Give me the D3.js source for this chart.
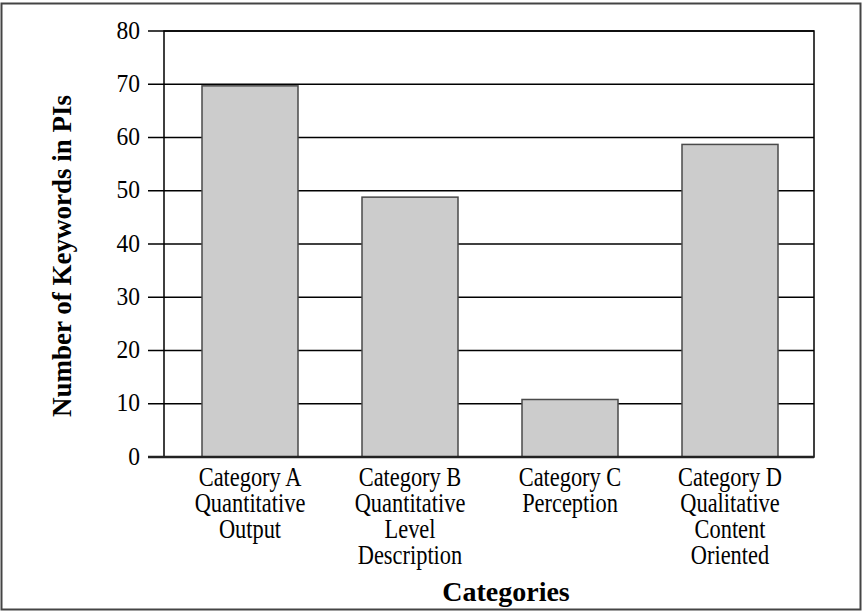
<!DOCTYPE html>
<html>
<head>
<meta charset="utf-8">
<script src="https://cdn.jsdelivr.net/npm/d3@7"></script>
<style>
  body { margin: 0; background: #fff; }
  text { font-family: "Liberation Serif", "Times New Roman", serif; fill: #000; }
</style>
</head>
<body>
<div id="chart"></div>
<script>
// data
var categories = ["Category A", "Category B", "Category C", "Category D"];
var categoryLabels = [
  ["Category A", "Quantitative", "Output"],
  ["Category B", "Quantitative", "Level", "Description"],
  ["Category C", "Perception"],
  ["Category D", "Qualitative", "Content", "Oriented"]
];
var keywordCounts = [69.7, 48.8, 10.8, 58.7];
var yTicks = [0, 10, 20, 30, 40, 50, 60, 70, 80];

var w = 862, h = 611;
var plot = {left: 164, right: 814, top: 31, bottom: 457};

var svg = d3.select("#chart").append("svg")
  .attr("width", w)
  .attr("height", h);

// outer frame
svg.append("rect")
  .attr("x", 1.5).attr("y", 3.5)
  .attr("width", w - 3).attr("height", h - 5)
  .attr("fill", "none")
  .attr("stroke", "#444")
  .attr("stroke-width", 2);

var x = d3.scaleBand()
  .domain(categories)
  .range([170, 810])
  .paddingInner(0.4)
  .paddingOuter(0.2);

var y = d3.scaleLinear()
  .domain([0, 80])
  .range([plot.bottom, plot.top]);

// gridlines
svg.append("g")
  .selectAll("line")
  .data(yTicks)
  .enter()
  .append("line")
  .attr("x1", plot.left - 16)
  .attr("x2", plot.right)
  .attr("y1", function(d) { return y(d); })
  .attr("y2", function(d) { return y(d); })
  .attr("stroke", "#000")
  .attr("stroke-width", 1.5);

// bars
svg.append("g")
  .selectAll("rect")
  .data(keywordCounts)
  .enter()
  .append("rect")
  .attr("x", function(d, i) { return x(categories[i]); })
  .attr("width", x.bandwidth())
  .attr("y", function(d) { return y(d); })
  .attr("height", function(d) { return y(0) - y(d); })
  .attr("fill", "#cccccc")
  .attr("stroke", "#4a4a4a")
  .attr("stroke-width", 1.5);

// plot frame
svg.append("rect")
  .attr("x", plot.left).attr("y", plot.top)
  .attr("width", plot.right - plot.left)
  .attr("height", plot.bottom - plot.top)
  .attr("fill", "none")
  .attr("stroke", "#000")
  .attr("stroke-width", 1.5);

svg.append("line")
  .attr("x1", plot.left - 16).attr("x2", plot.right)
  .attr("y1", plot.bottom).attr("y2", plot.bottom)
  .attr("stroke", "#222")
  .attr("stroke-width", 2.5);

// y tick labels
svg.append("g")
  .selectAll("text")
  .data(yTicks)
  .enter()
  .append("text")
  .attr("transform", function(d) { return "translate(140," + (y(d) + 7.5) + ") scale(0.94,1)"; })
  .attr("text-anchor", "end")
  .style("font-size", "25px")
  .text(function(d) { return d; });

// category labels, one text per category, lines as tspans
svg.append("g")
  .selectAll("text")
  .data(categoryLabels)
  .enter()
  .append("text")
  .attr("transform", function(d, i) {
    return "translate(" + (x(categories[i]) + x.bandwidth() / 2) + ",486) scale(0.8,1)";
  })
  .attr("text-anchor", "middle")
  .style("font-size", "28px")
  .selectAll("tspan")
  .data(function(d) { return d; })
  .enter()
  .append("tspan")
  .attr("x", 0)
  .attr("y", function(d, j) { return j * 26; })
  .text(function(d) { return d; });

// axis titles
svg.append("text")
  .attr("x", 506).attr("y", 601)
  .attr("text-anchor", "middle")
  .style("font-size", "28px")
  .style("font-weight", "bold")
  .text("Categories");

svg.append("text")
  .attr("transform", "translate(71,256) rotate(-90)")
  .attr("text-anchor", "middle")
  .style("font-size", "27px")
  .style("font-weight", "bold")
  .text("Number of Keywords in PIs");
</script>
</body>
</html>
